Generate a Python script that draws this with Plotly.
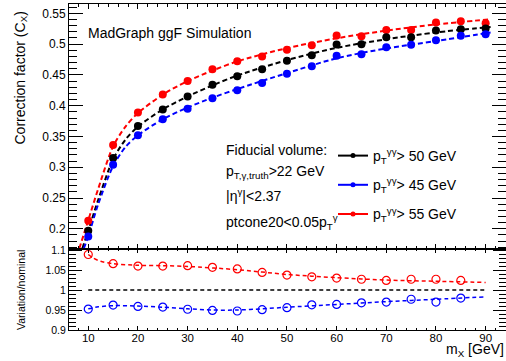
import plotly.graph_objects as go

# ---------------- data ----------------
mass = [10, 15, 20, 25, 30, 35, 40, 45, 50, 55, 60, 65, 70, 75, 80, 85, 90]
cx_pt50 = [0.197, 0.315, 0.367, 0.394, 0.415, 0.434, 0.448, 0.459, 0.473, 0.482,
           0.4995, 0.500, 0.511, 0.511, 0.522, 0.524, 0.5255]
cx_pt45 = [0.1875, 0.304, 0.352, 0.378, 0.395, 0.412, 0.425, 0.437, 0.452, 0.464,
           0.481, 0.4836, 0.495, 0.499, 0.5065, 0.5135, 0.516]
cx_pt55 = [0.213, 0.336, 0.389, 0.418, 0.440, 0.459, 0.472, 0.480, 0.491, 0.498,
           0.514, 0.513, 0.523, 0.523, 0.535, 0.537, 0.534]

# dashed fit curves (knots)
fit50_x = [8.8, 10, 12, 15, 17.5, 20, 25, 30, 35, 40, 50, 60, 70, 80, 91]
fit50_y = [0.168, 0.197, 0.247, 0.313, 0.345, 0.366, 0.394, 0.415, 0.433, 0.449,
           0.474, 0.494, 0.508, 0.519, 0.528]
fit45_x = [9.1, 10, 12, 15, 17.5, 20, 25, 30, 35, 40, 50, 60, 70, 80, 91]
fit45_y = [0.168, 0.188, 0.240, 0.302, 0.333, 0.352, 0.378, 0.397, 0.413, 0.427,
           0.453, 0.477, 0.493, 0.505, 0.519]
fit55_x = [8.2, 10, 12, 15, 17.5, 20, 25, 30, 35, 40, 50, 60, 70, 80, 91]
fit55_y = [0.168, 0.214, 0.265, 0.334, 0.366, 0.388, 0.418, 0.440, 0.457, 0.472,
           0.4935, 0.5095, 0.522, 0.532, 0.5405]

ratio_mass = [10, 15, 20, 25, 30, 35, 40, 45, 50, 55, 60, 65, 70, 75, 80, 85]
ratio_pt45 = [0.9525, 0.9625, 0.959, 0.9575, 0.952, 0.949, 0.9475, 0.951, 0.956,
              0.963, 0.964, 0.968, 0.970, 0.977, 0.970, 0.980]
ratio_pt55 = [1.089, 1.066, 1.060, 1.060, 1.061, 1.057, 1.053, 1.044, 1.0375,
              1.033, 1.030, 1.027, 1.024, 1.027, 1.027, 1.024]

rfit45_x = [10, 12, 15, 20, 25, 30, 35, 40, 45, 50, 60, 70, 80, 90]
rfit45_y = [0.953, 0.958, 0.961, 0.960, 0.957, 0.953, 0.950, 0.950, 0.953, 0.957,
            0.964, 0.971, 0.977, 0.983]
rfit55_x = [10, 11, 12.5, 15, 20, 25, 30, 40, 50, 60, 70, 80, 90]
rfit55_y = [1.089, 1.080, 1.072, 1.066, 1.062, 1.061, 1.059, 1.051, 1.039, 1.031,
            1.025, 1.022, 1.019]

nominal_x = [10, 90]
nominal_y = [1.0, 1.0]

legend_names = ["p<sub>T</sub><sup>γγ</sup>> 50 GeV",
                "p<sub>T</sub><sup>γγ</sup>> 45 GeV",
                "p<sub>T</sub><sup>γγ</sup>> 55 GeV"]

BLACK, BLUE, RED = "#000000", "#0000ff", "#ff0000"
FONT = "Liberation Sans, Arial, Helvetica, sans-serif"
DASH = "5px,3px"

fig = go.Figure()

# ---- top panel: fits
for fx, fy, c in [(fit55_x, fit55_y, RED), (fit50_x, fit50_y, BLACK), (fit45_x, fit45_y, BLUE)]:
    fig.add_trace(go.Scatter(x=fx, y=fy, mode="lines", line=dict(color=c, width=2, dash=DASH, shape="spline", smoothing=0.8),
                             xaxis="x", yaxis="y", showlegend=False, hoverinfo="skip"))
# ---- top panel: points
for vals, c in [(cx_pt55, RED), (cx_pt50, BLACK), (cx_pt45, BLUE)]:
    fig.add_trace(go.Scatter(x=mass, y=vals, mode="markers", marker=dict(color=c, size=8),
                             xaxis="x", yaxis="y", showlegend=False))

# ---- bottom panel
fig.add_trace(go.Scatter(x=nominal_x, y=nominal_y, mode="lines", line=dict(color=BLACK, width=1.5, dash="4px,3px"),
                         xaxis="x2", yaxis="y2", showlegend=False, hoverinfo="skip"))
for fx, fy, c in [(rfit55_x, rfit55_y, RED), (rfit45_x, rfit45_y, BLUE)]:
    fig.add_trace(go.Scatter(x=fx, y=fy, mode="lines", line=dict(color=c, width=1.5, dash="4px,3px", shape="spline", smoothing=0.8),
                             xaxis="x2", yaxis="y2", showlegend=False, hoverinfo="skip"))
for vals, c in [(ratio_pt55, RED), (ratio_pt45, BLUE)]:
    fig.add_trace(go.Scatter(x=ratio_mass, y=vals, mode="markers",
                             marker=dict(color="rgba(0,0,0,0)", size=8, line=dict(color=c, width=1.2)),
                             xaxis="x2", yaxis="y2", showlegend=False))

# ---- legend entries
for i, (name, c) in enumerate(zip(legend_names, [BLACK, BLUE, RED])):
    fig.add_trace(go.Scatter(x=[None], y=[None], mode="lines+markers", name=name,
                             line=dict(color=c, width=2), marker=dict(color=c, size=5),
                             xaxis="x", yaxis="y", legendgroup=f"g{i}"))

W, H = 506, 361
L, R, T, B = 69, 0, 4, 31
PW, PH = W - L - R, H - T - B


def px(xp):
    return (xp - L) / PW


def py(yp):
    return (H - B - yp) / PH


split = py(248.5)

axis_common = dict(showline=True, linecolor="black", linewidth=1, mirror="allticks",
                   showgrid=False, zeroline=False, ticks="inside", tickcolor="black",
                   tickfont=dict(family=FONT, color="black"))

fig.update_layout(
    width=W, height=H,
    margin=dict(l=L, r=R, t=T, b=B),
    paper_bgcolor="white", plot_bgcolor="white",
    font=dict(family=FONT, color="black", size=14),
    xaxis=dict(domain=[0, 1], anchor="y", range=[6.12, 94.1], tick0=0, dtick=10, ticklen=5,
               showticklabels=False, minor=dict(dtick=2, ticklen=3, ticks="inside", tickcolor="black"),
               **axis_common),
    yaxis=dict(domain=[split, 1], anchor="x", range=[0.168, 0.5652], tick0=0, dtick=0.05, ticklen=14,
               minor=dict(dtick=0.01, ticklen=8, ticks="inside", tickcolor="black"),
               **{**axis_common, "tickfont": dict(family=FONT, color="black", size=12)}),
    xaxis2=dict(domain=[0, 1], anchor="y2", matches="x", range=[6.12, 94.1], tick0=0, dtick=10, ticklen=4,
                ticklabelstandoff=-3,
                minor=dict(dtick=2, ticklen=2, ticks="inside", tickcolor="black"),
                **{**axis_common, "tickfont": dict(family=FONT, color="black", size=11.5)}),
    yaxis2=dict(domain=[0, split], anchor="x2", range=[0.9, 1.104], tick0=0, dtick=0.05, ticklen=13,
                minor=dict(dtick=0.01, ticklen=7, ticks="inside", tickcolor="black"),
                **{**axis_common, "tickfont": dict(family=FONT, color="black", size=10.5)}),
    legend=dict(x=px(333), y=py(140), xanchor="left", yanchor="top", bgcolor="rgba(0,0,0,0)",
                font=dict(family=FONT, size=14, color="black"), tracegroupgap=8),
    showlegend=True,
)

ann = [
    dict(text="MadGraph ggF Simulation", x=px(86), y=py(33), xanchor="left", yanchor="middle", font=dict(size=14)),
    dict(text="Fiducial volume:", x=px(224), y=py(150), xanchor="left", yanchor="middle", font=dict(size=14)),
    dict(text="p<sub>T,γ,truth</sub>>22 GeV", x=px(224), y=py(172), xanchor="left", yanchor="middle", font=dict(size=14)),
    dict(text="|η<sup>γ</sup>|&lt;2.37", x=px(224), y=py(195), xanchor="left", yanchor="middle", font=dict(size=14)),
    dict(text="ptcone20&lt;0.05p<sub>T</sub><sup>γ</sup>", x=px(224), y=py(222), xanchor="left", yanchor="middle", font=dict(size=14)),
    dict(text="Correction factor (C<sub>X</sub>)", x=px(20), y=py(10), xanchor="center", yanchor="top", textangle=-90, font=dict(size=14)),
    dict(text="Variation/nominal", x=px(21), y=py(290), xanchor="center", yanchor="middle", textangle=-90, font=dict(size=10.5)),
    dict(text="m<sub>X</sub> [GeV]", x=px(506), y=py(350), xanchor="right", yanchor="middle", font=dict(size=14)),
]
for a in ann:
    a.update(xref="paper", yref="paper", showarrow=False)
    a["font"] = dict(family=FONT, color="black", **a["font"])
fig.update_layout(annotations=ann)

fig.write_html("out.html", config={"displayModeBar": False},
               post_script="document.body.style.margin='0px';document.body.style.overflow='hidden';")
